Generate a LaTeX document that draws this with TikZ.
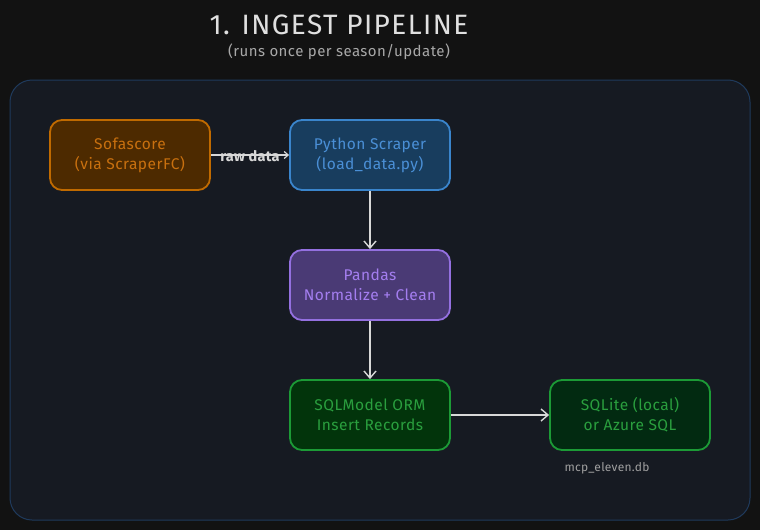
\documentclass[tikz,border=0pt]{standalone}
\usepackage{fontspec}
\setmainfont{Fira Sans}
\usetikzlibrary{arrows.meta}
\definecolor{bgc}{HTML}{121212}
\definecolor{contfill}{HTML}{161A22}
\definecolor{contline}{HTML}{1F3A5C}
\definecolor{orfill}{HTML}{4D2A00}
\definecolor{orline}{HTML}{C06A00}
\definecolor{ortext}{HTML}{C8700F}
\definecolor{blfill}{HTML}{183D5E}
\definecolor{blline}{HTML}{3A85CC}
\definecolor{bltext}{HTML}{4A8FD6}
\definecolor{pufill}{HTML}{4A3A75}
\definecolor{puline}{HTML}{9470E0}
\definecolor{putext}{HTML}{A47EF0}
\definecolor{grfill}{HTML}{02340B}
\definecolor{grfilldk}{HTML}{022A11}
\definecolor{grline}{HTML}{1C9A36}
\definecolor{grtext}{HTML}{2A9F3E}
\definecolor{arr}{HTML}{D8D8D8}
\definecolor{titlec}{HTML}{E0E0E0}
\definecolor{subc}{HTML}{A8A8A8}
\definecolor{notec}{HTML}{A0A0A0}
\begin{document}
\begin{tikzpicture}[x=1pt,y=-1pt,
  stagebox/.style={draw, line width=1.8pt, rounded corners=12pt, minimum width=160pt, minimum height=70pt, align=center, font=\fontsize{15.5}{20}\selectfont\addfontfeature{LetterSpace=3}, inner sep=0pt},
  conn/.style={draw=arr, line width=1.4pt, -{Straight Barb[length=7pt,width=12pt]}}]
\useasboundingbox[fill=bgc] (0,0) rectangle (760,530);
\node[text=titlec, font=\fontsize{28}{32}\selectfont\addfontfeature{LetterSpace=5}] (title) at (339,25) {1. INGEST PIPELINE};
\node[text=subc, font=\fontsize{15}{18}\selectfont\addfontfeature{LetterSpace=3}] (sub) at (339,52) {(runs once per season/update)};
\draw[contline, fill=contfill, line width=1pt, rounded corners=22pt] (10,80) rectangle (750,520);
\node[stagebox, fill=orfill, draw=orline, text=ortext] (sofa) at (130,155) {Sofascore\\(via ScraperFC)};
\node[stagebox, fill=blfill, draw=blline, text=bltext] (py) at (370,155) {Python Scraper\\(load\_data.py)};
\node[stagebox, fill=pufill, draw=puline, text=putext] (pd) at (370,285) {Pandas\\Normalize + Clean};
\node[stagebox, fill=grfill, draw=grline, text=grtext] (orm) at (370,415) {SQLModel ORM\\Insert Records};
\node[stagebox, fill=grfilldk, draw=grline, text=grtext] (db) at (630,415) {SQLite (local)\\or Azure SQL};
\node[text=notec, font=\fontsize{12}{14}\selectfont\addfontfeature{LetterSpace=2}] (note) at (607,468) {mcp\_eleven.db};
\draw[conn, line width=1.2pt, -{Straight Barb[length=4pt,width=7pt]}] (sofa) -- node[text=arr, font=\fontsize{14.5}{17}\selectfont\bfseries\addfontfeature{LetterSpace=2}, inner sep=1pt, yshift=-1pt] (rawlbl) {raw data} (py);
\draw[conn] (py) -- (pd);
\draw[conn] (pd) -- (orm);
\draw[conn] (orm) -- (db);
\end{tikzpicture}
\end{document}
